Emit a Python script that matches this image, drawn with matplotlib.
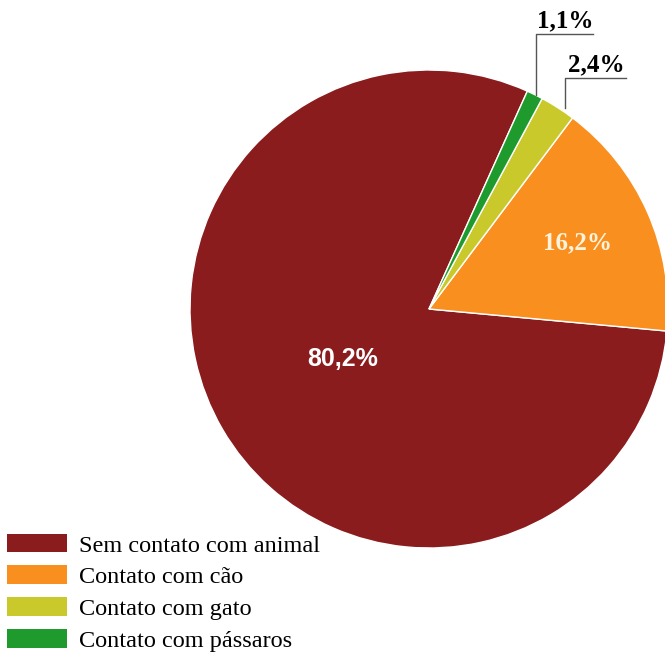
import numpy as np
import matplotlib
matplotlib.use("Agg")
import matplotlib.pyplot as plt

categories = ["Sem contato com animal", "Contato com cão", "Contato com gato", "Contato com pássaros"]
values = [80.2, 16.2, 2.4, 1.1]
labels = ["80,2%", "16,2%", "2,4%", "1,1%"]
colors = ["#8B1C1E", "#F88F1F", "#C9C92C", "#1F9A2C"]

W, H = 665, 659
fig = plt.figure(figsize=(W / 100, H / 100), dpi=100)
ax = fig.add_axes([0, 0, 1, 1])

cx, cy, R = 429, H - 309, 239
wedges, _ = ax.pie(values, colors=colors, startangle=65.7, counterclock=True,
                   center=(cx, cy), radius=R, frame=True,
                   wedgeprops=dict(edgecolor="white", linewidth=1.0))
ax.set_xlim(0, W)
ax.set_ylim(0, H)
ax.set_aspect("equal")
ax.axis("off")

def mid(w):
    return np.deg2rad((w.theta1 + w.theta2) / 2)

# inner labels
a = mid(wedges[0]); r = 0.42 * R
ax.text(cx + r * np.cos(a), cy + r * np.sin(a), labels[0], ha="center", va="center",
        color="white", fontsize=18, fontweight="bold", family="Liberation Sans")
a = mid(wedges[1]); r = 0.68 * R
ax.text(cx + r * np.cos(a), cy + r * np.sin(a), labels[1], ha="center", va="center",
        color="#FFF3DC", fontsize=18, fontweight="bold", family="Liberation Serif")

# outer labels with elbow leader lines
lc = "#555555"
for idx, ytop, xend, dx in [(3, H - 34, 593, 1), (2, H - 78, 626, 7)]:
    a = mid(wedges[idx])
    x0 = cx + R * np.cos(a) + dx
    y0 = cy + R * np.sin(a)
    ax.plot([x0, x0, xend], [y0, ytop, ytop], color=lc, lw=1.0)
    ax.text((x0 + xend) / 2 + 1, ytop + 2, labels[idx], ha="center", va="bottom",
            color="black", fontsize=18, fontweight="bold", family="Liberation Serif")

leg = ax.legend(wedges, categories, loc="lower left", bbox_to_anchor=(0.0, 0.0),
                bbox_transform=fig.transFigure, frameon=False,
                prop=dict(family="Liberation Serif", size=17.5),
                handlelength=2.45, handleheight=0.8, handletextpad=0.5,
                labelspacing=0.37, borderaxespad=0.15, borderpad=0.15)
for p in leg.get_patches():
    p.set_edgecolor("none")

fig.savefig("out.png", dpi=100)
